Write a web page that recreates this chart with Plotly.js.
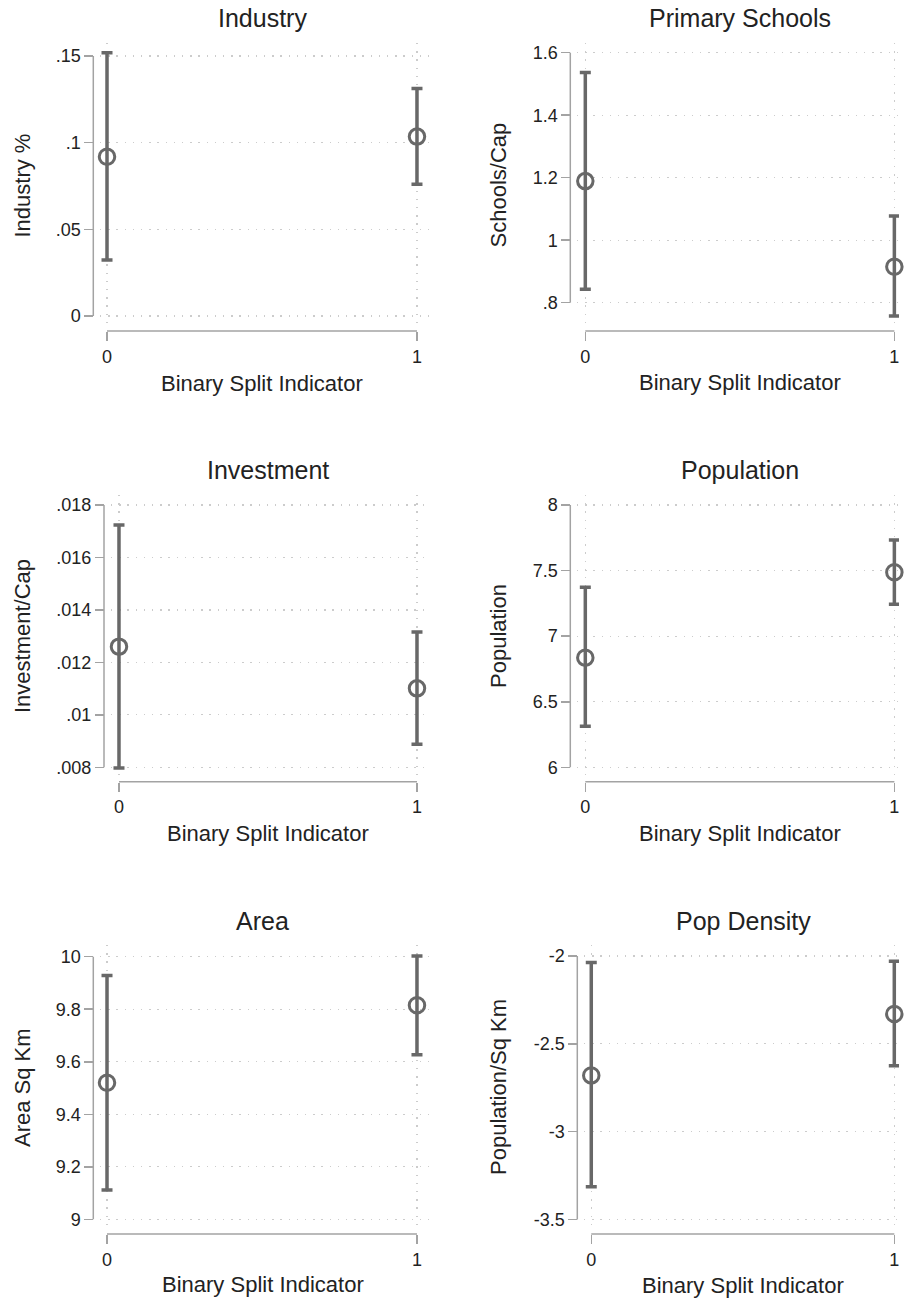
<!DOCTYPE html>
<html>
<head>
<meta charset="utf-8">
<script src="https://cdn.plot.ly/plotly-3.0.1.min.js"></script>
<style>html,body{margin:0;padding:0;background:#fff;}#chart{width:904px;height:1302px;}</style>
</head>
<body>
<div id="chart"></div>
<script>
// ---------- data ----------
const groupX = [0, 1];
const groupTickText = ['0', '1'];
const xTitle = 'Binary Split Indicator';

const panelTitles = ['Industry', 'Primary Schools', 'Investment', 'Population', 'Area', 'Pop Density'];
const yTitles = ['Industry %', 'Schools/Cap', 'Investment/Cap', 'Population', 'Area Sq Km', 'Population/Sq Km'];

const industryMean = [0.0919, 0.1035];
const industryLow  = [0.0323, 0.0760];
const industryHigh = [0.1519, 0.1312];

const schoolsMean = [1.189, 0.915];
const schoolsLow  = [0.843, 0.757];
const schoolsHigh = [1.537, 1.077];

const investMean = [0.01260, 0.01101];
const investLow  = [0.00797, 0.00888];
const investHigh = [0.01724, 0.01316];

const popMean = [6.836, 7.487];
const popLow  = [6.313, 7.243];
const popHigh = [7.372, 7.733];

const areaMean = [9.520, 9.815];
const areaLow  = [9.112, 9.627];
const areaHigh = [9.928, 10.003];

const densMean = [-2.680, -2.330];
const densLow  = [-3.314, -2.625];
const densHigh = [-2.036, -2.030];

const industryTicks = [0, 0.05, 0.1, 0.15];
const industryTickText = ['0', '.05', '.1', '.15'];
const schoolsTicks = [0.8, 1, 1.2, 1.4, 1.6];
const schoolsTickText = ['.8', '1', '1.2', '1.4', '1.6'];
const investTicks = [0.008, 0.01, 0.012, 0.014, 0.016, 0.018];
const investTickText = ['.008', '.01', '.012', '.014', '.016', '.018'];
const popTicks = [6, 6.5, 7, 7.5, 8];
const popTickText = ['6', '6.5', '7', '7.5', '8'];
const areaTicks = [9, 9.2, 9.4, 9.6, 9.8, 10];
const areaTickText = ['9', '9.2', '9.4', '9.6', '9.8', '10'];
const densTicks = [-3.5, -3, -2.5, -2];
const densTickText = ['-3.5', '-3', '-2.5', '-2'];

// ---------- layout geometry (pixels) ----------
const W = 904, H = 1302;
const geom = [
  {rx:[100,430], ry:[43,325],  yAx:93.3,  xAx:331,   xr:[-0.0226,1.042], yr:[-0.00519,0.1575],   t:[262,18.4],   yt:[22.5,186], xt:[262,383.3]},
  {rx:[577,899], ry:[43,325],  yAx:570.3, xAx:331,   xr:[-0.0269,1.015], yr:[0.7286,1.631],      t:[739.7,18],   yt:[497.5,185], xt:[739.7,383]},
  {rx:[111,431], ry:[495,776], yAx:104,   xAx:781.7, xr:[-0.0268,1.047], yr:[0.007669,0.018381], t:[268,469.6],  yt:[22,636], xt:[268,833]},
  {rx:[577,899], ry:[495,776], yAx:570.3, xAx:781.7, xr:[-0.0269,1.015], yr:[5.934,8.0762],      t:[739.5,469.6],yt:[498,636], xt:[739.7,833]},
  {rx:[100,430], ry:[945,1228],yAx:93.3,  xAx:1234,  xr:[-0.0226,1.042], yr:[8.967,10.0445],     t:[262,920.6],  yt:[22,1088], xt:[262.5,1284.6]},
  {rx:[584,899], ry:[945,1228],yAx:577.3, xAx:1234,  xr:[-0.024,1.0155], yr:[-3.549,-1.937],     t:[743,920.5],  yt:[498,1087], xt:[743,1285]}
];

const series = [
  {m:industryMean, lo:industryLow, hi:industryHigh, tv:industryTicks, tt:industryTickText},
  {m:schoolsMean,  lo:schoolsLow,  hi:schoolsHigh,  tv:schoolsTicks,  tt:schoolsTickText},
  {m:investMean,   lo:investLow,   hi:investHigh,   tv:investTicks,   tt:investTickText},
  {m:popMean,      lo:popLow,      hi:popHigh,      tv:popTicks,      tt:popTickText},
  {m:areaMean,     lo:areaLow,     hi:areaHigh,     tv:areaTicks,     tt:areaTickText},
  {m:densMean,     lo:densLow,     hi:densHigh,     tv:densTicks,     tt:densTickText}
];

const FONT = 'Arial, "Liberation Sans", Helvetica, sans-serif';
const TXT = '#222222';
const AXC = '#a3a3a3';
const MARK = '#686868';
const GRID = '#cccccc';

const px = v => v / W;
const py = v => 1 - v / H;

const traces = [];
const layout = {
  width: W, height: H,
  margin: {l:0, r:0, t:0, b:0},
  paper_bgcolor: '#ffffff',
  plot_bgcolor: '#ffffff',
  showlegend: false,
  font: {family: FONT, color: TXT},
  shapes: [],
  annotations: []
};

series.forEach((s, i) => {
  const g = geom[i];
  const n = i + 1;
  const xa = n === 1 ? 'x' : 'x' + n;
  const ya = n === 1 ? 'y' : 'y' + n;
  const xk = n === 1 ? 'xaxis' : 'xaxis' + n;
  const yk = n === 1 ? 'yaxis' : 'yaxis' + n;

  traces.push({
    type: 'scatter', mode: 'markers',
    x: groupX, y: s.m,
    xaxis: xa, yaxis: ya,
    cliponaxis: false,
    marker: {symbol: 'circle-open', size: 15.5, color: MARK, line: {width: 3, color: MARK}},
    error_y: {
      type: 'data', symmetric: false,
      array: s.hi.map((h, k) => h - s.m[k]),
      arrayminus: s.m.map((m, k) => m - s.lo[k]),
      color: MARK, thickness: 3.5, width: 5.5
    },
    hoverinfo: 'skip'
  });

  layout[xk] = {
    domain: [px(g.rx[0]), px(g.rx[1])],
    range: g.xr,
    anchor: 'free', position: py(g.xAx),
    tickmode: 'array', tickvals: groupX, ticktext: groupTickText,
    ticks: 'outside', ticklen: 9, tickwidth: 1.5, tickcolor: AXC,
    tickfont: {size: 18, color: TXT, family: FONT},
    showline: false, zeroline: false,
    showgrid: true, gridcolor: GRID, gridwidth: 1.2, griddash: '1.4px,6.8px',
    fixedrange: true
  };
  layout[yk] = {
    domain: [py(g.ry[1]), py(g.ry[0])],
    range: g.yr,
    anchor: 'free', position: px(g.yAx),
    tickmode: 'array', tickvals: s.tv, ticktext: s.tt,
    ticks: 'outside', ticklen: 9, tickwidth: 1.5, tickcolor: AXC,
    tickfont: {size: 18, color: TXT, family: FONT},
    showline: false, zeroline: false,
    showgrid: true, gridcolor: GRID, gridwidth: 1.2, griddash: '1.4px,6.8px',
    fixedrange: true
  };

  // axis lines spanning only the tick range (Stata style)
  layout.shapes.push({
    type: 'line', xref: 'paper', yref: ya,
    x0: px(g.yAx), x1: px(g.yAx),
    y0: s.tv[0], y1: s.tv[s.tv.length - 1],
    line: {color: AXC, width: 1.5}, layer: 'above'
  });
  layout.shapes.push({
    type: 'line', xref: xa, yref: 'paper',
    x0: groupX[0], x1: groupX[groupX.length - 1],
    y0: py(g.xAx), y1: py(g.xAx),
    line: {color: AXC, width: 1.5}, layer: 'above'
  });

  layout.annotations.push({
    text: panelTitles[i], xref: 'paper', yref: 'paper',
    x: px(g.t[0]), y: py(g.t[1]), xanchor: 'center', yanchor: 'middle',
    showarrow: false, font: {size: 25, color: TXT, family: FONT}
  });
  layout.annotations.push({
    text: yTitles[i], xref: 'paper', yref: 'paper',
    x: px(g.yt[0]), y: py(g.yt[1]), xanchor: 'center', yanchor: 'middle',
    textangle: -90,
    showarrow: false, font: {size: 22, color: TXT, family: FONT}
  });
  layout.annotations.push({
    text: xTitle, xref: 'paper', yref: 'paper',
    x: px(g.xt[0]), y: py(g.xt[1]), xanchor: 'center', yanchor: 'middle',
    showarrow: false, font: {size: 22, color: TXT, family: FONT}
  });
});

Plotly.newPlot('chart', traces, layout, {displayModeBar: false, staticPlot: true});
</script>
</body>
</html>
